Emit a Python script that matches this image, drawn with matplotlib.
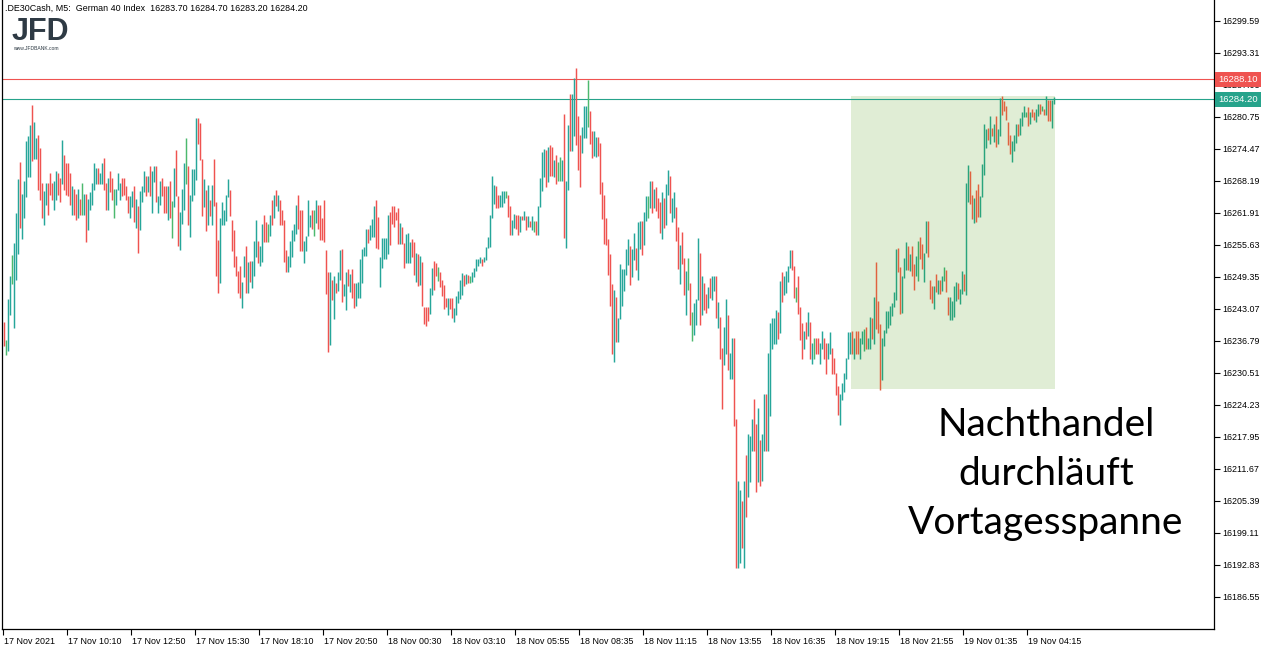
import numpy as np
import matplotlib
matplotlib.use('Agg')
import matplotlib.pyplot as plt
from matplotlib.patches import Rectangle
from matplotlib import transforms

# M5 bars (high / low), oldest first
highs = [
    16240.5, 16236.9, 16245.0, 16249.5, 16253.6, 16256.0, 16261.9, 16268.5, 16271.9, 16265.6,
    16268.1, 16276.0, 16277.0, 16279.1, 16283.0, 16279.7, 16276.6, 16277.2, 16274.6, 16267.7,
    16266.2, 16267.7, 16267.7, 16269.7, 16267.7, 16268.1, 16270.1, 16269.7, 16268.7, 16276.2,
    16273.2, 16271.7, 16271.7, 16269.7, 16267.2, 16266.6, 16265.6, 16266.6, 16264.6, 16267.7,
    16265.6, 16265.6, 16264.6, 16266.0, 16267.7, 16271.7, 16270.7, 16270.7, 16269.7, 16271.7,
    16272.6, 16267.7, 16268.7, 16270.1, 16268.7, 16266.6, 16266.6, 16269.7, 16267.7, 16268.7,
    16268.7, 16267.2, 16265.2, 16265.2, 16266.2, 16267.2, 16264.6, 16263.3, 16266.2, 16267.2,
    16270.1, 16269.1, 16269.1, 16271.1, 16270.1, 16271.1, 16271.1, 16265.2, 16268.1, 16268.7,
    16267.2, 16267.2, 16267.2, 16268.1, 16264.2, 16270.7, 16274.2, 16265.2, 16262.1, 16266.6,
    16271.7, 16276.6, 16271.1, 16265.4, 16270.5, 16270.5, 16280.5, 16280.5, 16279.5, 16272.5,
    16268.5, 16266.4, 16267.4, 16264.4, 16267.4, 16272.5, 16264.0, 16256.6, 16260.9, 16264.0,
    16262.5, 16265.4, 16268.5, 16266.4, 16260.5, 16258.6, 16253.5, 16250.5, 16251.5, 16248.4,
    16253.5, 16255.4, 16252.3, 16252.5, 16252.5, 16256.4, 16260.5, 16256.4, 16255.4, 16259.6,
    16261.5, 16260.0, 16259.6, 16261.5, 16264.5, 16265.4, 16266.4, 16265.4, 16264.5, 16262.5,
    16260.5, 16254.5, 16253.5, 16256.4, 16258.6, 16259.6, 16263.5, 16265.4, 16262.5, 16262.5,
    16256.4, 16257.4, 16264.5, 16261.5, 16262.5, 16262.5, 16264.5, 16263.5, 16263.5, 16260.9,
    16264.5, 16254.5, 16250.3, 16250.3, 16248.8, 16249.5, 16248.2, 16250.3, 16254.5, 16254.7,
    16248.0, 16250.3, 16250.9, 16249.9, 16250.9, 16248.2, 16248.2, 16248.4, 16252.9, 16254.7,
    16255.2, 16258.8, 16258.8, 16259.4, 16260.7, 16263.3, 16264.5, 16261.1, 16253.3, 16257.0,
    16257.0, 16257.0, 16261.5, 16262.1, 16263.3, 16263.3, 16262.1, 16262.9, 16259.8, 16259.2,
    16256.0, 16257.8, 16258.0, 16256.2, 16256.8, 16256.2, 16254.1, 16253.9, 16253.5, 16252.3,
    16243.5, 16243.5, 16243.5, 16247.2, 16251.1, 16252.5, 16252.1, 16251.3, 16250.3, 16248.8,
    16247.8, 16245.2, 16245.2, 16245.2, 16245.2, 16243.3, 16245.6, 16246.6, 16248.8, 16250.1,
    16249.7, 16249.9, 16249.7, 16249.4, 16250.3, 16251.1, 16252.9, 16252.9, 16253.3, 16252.9,
    16253.3, 16255.2, 16257.2, 16261.5, 16269.2, 16267.4, 16267.2, 16265.3, 16265.3, 16266.2,
    16266.2, 16266.2, 16265.3, 16263.3, 16260.5, 16261.7, 16261.5, 16261.5, 16261.3, 16261.3,
    16262.3, 16261.3, 16261.3, 16260.3, 16261.3, 16260.3, 16260.3, 16263.3, 16268.8, 16273.9,
    16274.5, 16274.3, 16274.9, 16275.1, 16274.9, 16272.3, 16273.3, 16271.9, 16272.9, 16272.3,
    16281.3, 16268.2, 16279.2, 16285.3, 16285.3, 16288.4, 16290.4, 16280.8, 16277.2, 16278.8,
    16282.9, 16282.9, 16288.0, 16281.9, 16278.0, 16278.0, 16276.8, 16276.8, 16275.5, 16268.0,
    16265.4, 16260.9, 16256.8, 16253.9, 16248.0, 16246.8, 16245.4, 16241.3, 16251.9, 16250.9,
    16250.9, 16254.8, 16256.8, 16255.4, 16254.8, 16258.0, 16255.0, 16260.0, 16260.3, 16260.3,
    16262.1, 16265.1, 16265.1, 16268.2, 16268.2, 16266.6, 16267.0, 16264.7, 16264.1, 16266.0,
    16264.7, 16267.6, 16270.2, 16269.2, 16264.7, 16266.0, 16263.1, 16259.2, 16255.6, 16258.2,
    16253.1, 16250.5, 16253.1, 16248.2, 16242.5, 16244.1, 16245.0, 16257.0, 16254.1, 16249.5,
    16248.2, 16246.0, 16247.4, 16249.0, 16249.5, 16249.5, 16249.5, 16244.4, 16241.5, 16235.4,
    16239.5, 16245.0, 16241.9, 16234.4, 16237.4, 16237.4, 16221.5, 16209.3, 16207.4, 16205.4,
    16209.3, 16214.4, 16218.4, 16218.0, 16221.5, 16225.4, 16220.5, 16223.5, 16217.4, 16218.5,
    16226.4, 16226.4, 16234.4, 16240.3, 16241.3, 16241.3, 16242.9, 16242.5, 16248.6, 16250.3,
    16249.5, 16250.5, 16251.5, 16254.5, 16254.5, 16251.5, 16247.4, 16249.5, 16243.5, 16240.3,
    16238.6, 16240.5, 16242.5, 16240.5, 16236.4, 16237.4, 16237.4, 16237.4, 16236.4, 16238.6,
    16237.4, 16236.3, 16236.3, 16238.5, 16235.4, 16233.4, 16230.5, 16228.0, 16226.3, 16228.5,
    16230.5, 16233.4, 16238.5, 16238.5, 16238.6, 16237.4, 16238.6, 16238.6, 16237.4, 16238.6,
    16239.0, 16239.5, 16237.4, 16241.5, 16241.3, 16245.4, 16252.3, 16244.6, 16240.1, 16237.4,
    16238.8, 16242.7, 16242.7, 16243.7, 16244.1, 16246.4, 16254.7, 16255.0, 16251.3, 16249.5,
    16253.1, 16256.2, 16255.4, 16253.9, 16255.4, 16251.9, 16253.5, 16256.4, 16257.2, 16255.8,
    16254.1, 16260.3, 16260.3, 16248.8, 16247.6, 16247.6, 16249.9, 16248.8, 16248.8, 16249.4,
    16251.3, 16250.7, 16245.4, 16245.4, 16244.6, 16247.6, 16248.4, 16248.2, 16247.0, 16250.5,
    16249.9, 16267.8, 16271.3, 16270.0, 16265.4, 16264.7, 16266.4, 16267.6, 16265.1, 16271.5,
    16279.4, 16278.4, 16278.6, 16280.8, 16278.6, 16279.4, 16280.8, 16278.4, 16284.5, 16284.9,
    16283.9, 16282.9, 16279.8, 16277.2, 16276.0, 16277.2, 16279.4, 16279.4, 16280.4, 16281.7,
    16282.9, 16281.7, 16282.7, 16281.7, 16282.3, 16281.7, 16282.3, 16283.3, 16283.3, 16282.9,
    16282.3, 16284.9, 16284.1, 16284.1, 16284.1, 16284.7,
]

lows = [
    16235.8, 16233.9, 16234.8, 16241.8, 16247.9, 16239.3, 16248.8, 16253.9, 16259.0, 16256.8,
    16260.9, 16264.9, 16269.0, 16269.0, 16272.1, 16272.5, 16272.5, 16266.4, 16264.5, 16260.9,
    16259.5, 16263.5, 16261.5, 16265.4, 16264.5, 16262.5, 16264.5, 16265.4, 16264.1, 16267.6,
    16266.4, 16265.4, 16265.1, 16263.5, 16261.5, 16261.5, 16260.5, 16260.9, 16261.5, 16261.5,
    16261.5, 16256.2, 16258.6, 16262.5, 16263.5, 16266.4, 16267.6, 16267.6, 16267.6, 16267.6,
    16266.4, 16262.5, 16262.5, 16266.0, 16264.5, 16260.9, 16263.5, 16266.4, 16264.5, 16265.1,
    16265.4, 16264.5, 16261.9, 16260.9, 16263.1, 16260.0, 16259.0, 16254.1, 16258.6, 16264.1,
    16266.0, 16265.1, 16266.0, 16265.1, 16261.9, 16268.0, 16264.1, 16261.9, 16263.5, 16265.1,
    16261.9, 16261.9, 16260.5, 16260.9, 16257.0, 16263.1, 16265.1, 16255.4, 16254.5, 16259.6,
    16262.5, 16267.6, 16259.4, 16257.2, 16264.3, 16265.3, 16268.4, 16275.3, 16272.3, 16261.3,
    16263.1, 16258.4, 16259.4, 16261.3, 16259.4, 16263.3, 16249.4, 16246.2, 16248.2, 16259.4,
    16259.4, 16260.3, 16264.9, 16261.3, 16254.3, 16251.3, 16249.4, 16246.2, 16245.2, 16243.3,
    16249.2, 16246.2, 16246.2, 16248.4, 16247.2, 16249.4, 16253.3, 16252.1, 16251.5, 16252.3,
    16256.2, 16256.2, 16256.2, 16257.4, 16259.4, 16260.9, 16263.3, 16262.3, 16259.4, 16259.4,
    16252.3, 16250.3, 16250.3, 16251.3, 16253.3, 16256.4, 16257.8, 16258.8, 16254.3, 16254.3,
    16252.1, 16254.3, 16257.4, 16259.2, 16258.8, 16257.4, 16259.8, 16258.8, 16256.6, 16256.6,
    16256.2, 16246.0, 16234.6, 16236.0, 16244.8, 16241.1, 16246.2, 16246.6, 16248.8, 16244.3,
    16245.6, 16242.9, 16247.6, 16246.4, 16245.2, 16243.3, 16243.7, 16245.2, 16245.2, 16248.2,
    16253.5, 16253.5, 16256.0, 16256.6, 16257.2, 16257.2, 16255.0, 16254.8, 16247.4, 16251.1,
    16252.9, 16252.9, 16253.9, 16255.6, 16259.6, 16259.2, 16260.5, 16255.8, 16255.8, 16255.8,
    16251.1, 16252.1, 16252.1, 16252.1, 16253.3, 16249.7, 16248.4, 16247.6, 16247.8, 16243.7,
    16240.1, 16239.7, 16240.7, 16242.1, 16245.8, 16246.8, 16249.4, 16248.6, 16247.4, 16245.6,
    16243.1, 16243.5, 16241.9, 16243.1, 16241.3, 16240.5, 16241.9, 16244.1, 16245.0, 16245.8,
    16247.6, 16248.0, 16248.2, 16248.2, 16248.4, 16249.2, 16250.5, 16251.5, 16252.1, 16251.5,
    16252.3, 16252.7, 16255.0, 16255.2, 16260.9, 16263.7, 16262.9, 16262.9, 16263.1, 16263.1,
    16263.9, 16264.7, 16261.1, 16257.6, 16257.6, 16259.0, 16258.8, 16257.6, 16258.2, 16260.5,
    16260.5, 16258.6, 16259.2, 16259.2, 16258.6, 16258.2, 16257.6, 16257.6, 16263.1, 16266.2,
    16269.0, 16267.0, 16268.0, 16269.2, 16269.2, 16269.0, 16267.6, 16268.2, 16268.2, 16268.2,
    16257.0, 16255.0, 16266.4, 16274.1, 16274.1, 16277.0, 16275.1, 16270.2, 16267.0, 16273.7,
    16276.6, 16276.6, 16278.8, 16275.3, 16272.7, 16273.1, 16272.9, 16273.1, 16265.6, 16260.7,
    16255.8, 16255.6, 16249.7, 16243.7, 16234.2, 16232.7, 16236.6, 16236.6, 16241.1, 16243.7,
    16246.6, 16249.7, 16251.7, 16247.8, 16249.2, 16252.7, 16250.7, 16248.8, 16254.7, 16253.7,
    16255.6, 16260.3, 16260.9, 16262.9, 16261.9, 16262.9, 16262.3, 16260.9, 16258.0, 16256.8,
    16259.0, 16259.4, 16265.4, 16261.9, 16260.0, 16260.9, 16256.4, 16250.9, 16248.0, 16251.9,
    16245.8, 16241.9, 16246.8, 16239.9, 16236.8, 16238.0, 16239.9, 16244.8, 16239.9, 16241.9,
    16242.9, 16242.3, 16243.3, 16245.2, 16244.8, 16246.6, 16241.3, 16239.3, 16233.3, 16223.3,
    16232.1, 16234.2, 16231.1, 16229.3, 16229.3, 16220.1, 16192.1, 16192.1, 16193.2, 16196.2,
    16192.1, 16202.1, 16206.2, 16209.1, 16215.2, 16215.2, 16207.2, 16209.1, 16208.3, 16209.3,
    16215.2, 16215.2, 16215.2, 16222.1, 16235.2, 16236.2, 16236.2, 16237.2, 16238.4, 16244.3,
    16245.8, 16246.2, 16248.4, 16251.1, 16250.7, 16245.2, 16244.3, 16242.1, 16236.9, 16233.3,
    16235.2, 16237.2, 16237.8, 16233.3, 16232.3, 16233.3, 16234.2, 16234.2, 16232.3, 16235.2,
    16233.3, 16230.3, 16233.3, 16234.2, 16230.3, 16230.3, 16226.2, 16222.3, 16220.3, 16225.2,
    16226.8, 16229.3, 16233.3, 16234.2, 16234.2, 16233.3, 16234.2, 16234.2, 16233.3, 16236.2,
    16234.8, 16235.2, 16235.2, 16235.2, 16237.2, 16236.2, 16239.0, 16238.4, 16227.2, 16229.0,
    16235.8, 16238.4, 16239.3, 16239.9, 16241.7, 16243.5, 16244.8, 16250.3, 16242.1, 16242.3,
    16249.0, 16250.7, 16250.7, 16250.5, 16249.5, 16246.8, 16249.5, 16248.6, 16252.9, 16250.9,
    16248.4, 16254.1, 16253.3, 16245.0, 16244.1, 16243.1, 16246.4, 16246.0, 16246.0, 16246.6,
    16248.6, 16246.4, 16241.9, 16240.9, 16240.9, 16241.5, 16244.6, 16245.0, 16243.9, 16246.0,
    16246.6, 16245.8, 16264.1, 16263.7, 16260.7, 16259.8, 16260.1, 16261.1, 16261.1, 16264.9,
    16269.4, 16274.7, 16276.2, 16275.3, 16277.0, 16275.8, 16274.9, 16275.3, 16277.0, 16281.1,
    16281.9, 16280.2, 16275.1, 16273.5, 16271.9, 16274.1, 16275.5, 16277.0, 16277.2, 16279.0,
    16280.6, 16280.6, 16279.0, 16279.4, 16280.6, 16280.2, 16279.8, 16280.8, 16281.3, 16281.9,
    16281.1, 16281.1, 16280.0, 16280.0, 16278.6, 16283.2,
]

# u = bullish bar, d = bearish bar, n = unchanged
directions = (
    "dnuunuuudu" "uuuuduuddd" "uuddduuddu" "dddduddudn" "uduuuuuduu"
    "dduddnuuud" "ddduududuu" "ududuuduud" "ddudnudduu" "unduuuuddd"
    "udududdduu" "uuuddddddu" "ududuuuduu" "ddnudududd" "dduuuuuddd"
    "uuuudnuddd" "dddududuud" "uududduuuu" "uuduuudduu" "uuudddddud"
    "duuuddudud" "ddduuddndd" "ddudduuuuu" "dudnuuuuud" "uuuuuudduu"
    "undduuddud" "ududunduuu" "ududdudnnu" "duuduudddu" "uundduuddd"
    "ddddduduuu" "uuuduuduud" "uunududddu" "duuduuddud" "dundnuuudu"
    "dduduududd" "uuduudduud" "uduuuddudu" "uduuuuudud" "uuuuddnddd"
    "ududundduu" "dduudddduu" "uuuududduu" "nduududddu" "uuuuuuuddu"
    "uududdundd" "uudddududu" "ndduuuuduu" "duuddudduu" "uudududuud"
    "dddduuuduu" "undudduudn" "dudduu"
)

time_labels = ["17 Nov 2021", "17 Nov 10:10", "17 Nov 12:50", "17 Nov 15:30",
               "17 Nov 18:10", "17 Nov 20:50", "18 Nov 00:30", "18 Nov 03:10",
               "18 Nov 05:55", "18 Nov 08:35", "18 Nov 11:15", "18 Nov 13:55",
               "18 Nov 16:35", "18 Nov 19:15", "18 Nov 21:55", "19 Nov 01:35",
               "19 Nov 04:15"]
price_ticks = [16299.59, 16293.31, 16287.03, 16280.75, 16274.47, 16268.19, 16261.91,
               16255.63, 16249.35, 16243.07, 16236.79, 16230.51, 16224.23, 16217.95,
               16211.67, 16205.39, 16199.11, 16192.83, 16186.55]
last_ohlc = [16283.70, 16284.70, 16283.20, 16284.20]
ask_price = 16288.10
bid_price = 16284.20
# overnight session rectangle
box_first_bar = 424
box_last_bar = 525
box_low = 16227.3
box_high = 16284.8
note_lines = ["Nachthandel", "durchläuft", "Vortagesspanne"]

UP, DOWN, FLAT = '#26a69a', '#ef5350', '#4cb96e'
UP_BOX, DOWN_BOX, FLAT_BOX = '#2aa47c', '#e0623f', '#3fb066'
BOX_COLOR = '#e0edd5'
BID_COLOR = '#26a38b'

small_font = ['Liberation Sans', 'DejaVu Sans']
small_size = 6.4

fig = plt.figure(figsize=(12.72, 6.5), dpi=100)
ax = fig.add_axes([2 / 1272, 21 / 650, 1212 / 1272, 629 / 650])

x = np.arange(len(highs))
colors = []
for i, d in enumerate(directions):
    inside = box_first_bar <= i <= box_last_bar
    if d == 'u':
        colors.append(UP_BOX if inside else UP)
    elif d == 'd':
        colors.append(DOWN_BOX if inside else DOWN)
    else:
        colors.append(FLAT_BOX if inside else FLAT)

ax.add_patch(Rectangle((box_first_bar - 0.6, box_low), box_last_bar - box_first_bar + 1.1,
                       box_high - box_low, facecolor=BOX_COLOR, edgecolor='none', zorder=0))
ax.axhline(ask_price, color=DOWN, lw=0.8, zorder=1)
ax.axhline(bid_price, color=BID_COLOR, lw=0.8, zorder=1)
ax.vlines(x, lows, highs, colors=colors, linewidth=1.05, zorder=2)

ax.set_xlim(-1.15, 604.85)
ax.set_ylim(16180.22, 16303.65)

ax.spines['top'].set_visible(False)
for s in ['left', 'right', 'bottom']:
    ax.spines[s].set_color('black')
    ax.spines[s].set_linewidth(0.9)

ax.yaxis.tick_right()
ax.set_yticks(price_ticks)
ax.set_yticklabels([f"{p:.2f}" for p in price_ticks], fontfamily=small_font,
                   fontsize=small_size)
ax.tick_params(axis='y', direction='out', length=4, width=0.8, pad=2)

tick_pos = np.arange(len(time_labels)) * 32 - 0.9
ax.set_xticks(tick_pos)
ax.set_xticklabels(time_labels, fontfamily=small_font, fontsize=small_size, ha='left')
ax.tick_params(axis='x', direction='out', length=4, width=0.8, pad=1.5)
offset = transforms.ScaledTranslation(1 / 100, 0, fig.dpi_scale_trans)
for lbl in ax.get_xticklabels():
    lbl.set_transform(lbl.get_transform() + offset)

# bid / ask price tags on the scale
tag_tr = transforms.blended_transform_factory(ax.transAxes, ax.transData)
for price, col in [(ask_price, DOWN), (bid_price, BID_COLOR)]:
    ax.text(1.0035, price, f"{price:.2f}", transform=tag_tr, ha='left', va='center',
            color='white', fontfamily=small_font, fontsize=6.8, zorder=5,
            bbox=dict(boxstyle='square,pad=0.32', fc=col, ec='none'))

header = ".DE30Cash, M5:  German 40 Index  " + " ".join(f"{v:.2f}" for v in last_ohlc)
fig.text(5 / 1272, 1 - 8 / 650, header, ha='left', va='center',
         fontfamily=small_font, fontsize=small_size)

# logo
fig.text(12 / 1272, 1 - 32 / 650, "JFD", ha='left', va='center', fontsize=22,
         fontweight='bold', color='#2e3a44', fontfamily=['Liberation Sans', 'DejaVu Sans'])
fig.text(13 / 1272, 1 - 48 / 650, "www.JFDBANK.com", ha='left', va='center', fontsize=3.6,
         color='#2e3a44', fontfamily=['Liberation Sans', 'DejaVu Sans'])

# note, one line at a time (baselines in pixels from top)
for line, base in zip(note_lines, [436, 485, 534]):
    fig.text(1046 / 1272, 1 - base / 650, line, ha='center', va='baseline', fontsize=28,
             color='black', fontfamily=['Lato', 'DejaVu Sans'])

fig.savefig('out.png', dpi=100)
